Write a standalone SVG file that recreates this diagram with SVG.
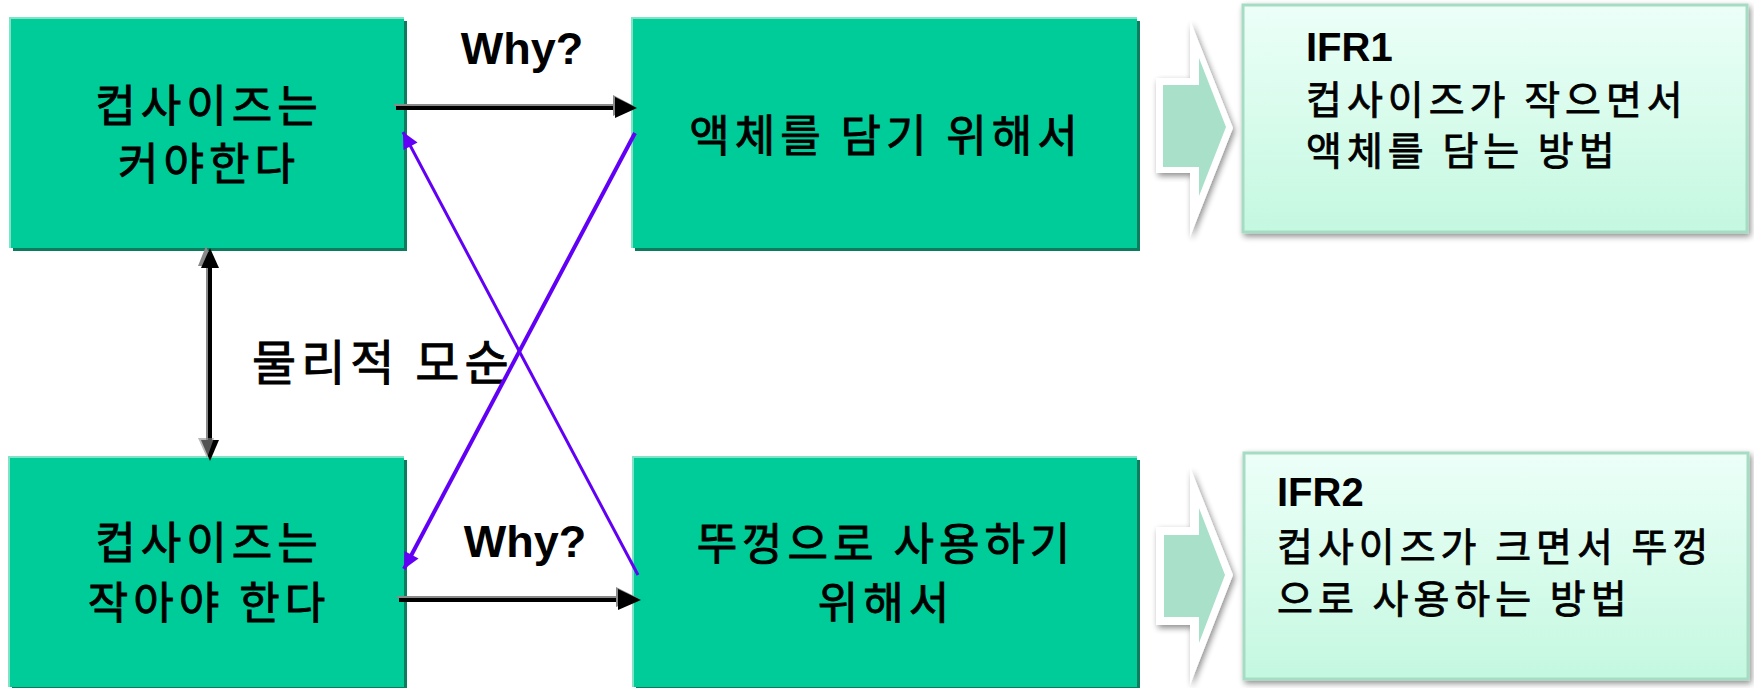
<svg xmlns="http://www.w3.org/2000/svg" width="1754" height="688" viewBox="0 0 1754 688">
<defs>
<style>
.box{fill:#00cc99}
.boxsh{fill:#0b7d5e}
.hl{stroke:#7fe3c6;stroke-width:2;fill:none}
.kt{font-family:"Noto Sans CJK KR","Liberation Sans",sans-serif;font-size:44px;font-weight:400;fill:#000;stroke:#000;stroke-width:0.9px;text-anchor:middle;letter-spacing:5px}
.why{font-family:"Liberation Sans",Arial,sans-serif;font-weight:bold;font-size:45px;fill:#000;text-anchor:middle}
.ifrh{font-family:"Liberation Sans",Arial,sans-serif;font-weight:bold;font-size:40px;fill:#000}
.ifrt{font-family:"Noto Sans CJK KR","Liberation Sans",sans-serif;font-size:39px;font-weight:400;fill:#000;stroke:#000;stroke-width:0.8px;letter-spacing:5px}
.ifr{fill:url(#ifrg);stroke:#a6dcc3;stroke-width:3}
.outer{fill:#fff;filter:url(#sh)}
.inner{fill:#a9e0c9}
.blk{stroke:#000;stroke-width:4;fill:none}
.gry{stroke:#8a8a8a;stroke-width:2;fill:none}
.pur{stroke:#6200f5;fill:none}
</style>
<linearGradient id="ifrg" x1="0" y1="0" x2="0" y2="1">
<stop offset="0" stop-color="#ecfff8"/>
<stop offset="1" stop-color="#c4f8e0"/>
</linearGradient>
<filter id="sh" x="-20%" y="-20%" width="150%" height="150%">
<feGaussianBlur in="SourceAlpha" stdDeviation="3"/>
<feOffset dx="2" dy="3" result="b"/>
<feComponentTransfer><feFuncA type="linear" slope="0.45"/></feComponentTransfer>
<feMerge><feMergeNode/><feMergeNode in="SourceGraphic"/></feMerge>
</filter>
<marker id="pa" viewBox="0 0 10 10" refX="10" refY="5" markerWidth="18" markerHeight="16" markerUnits="userSpaceOnUse" orient="auto">
<path d="M0,0 L10,5 L0,10 z" fill="#6200f5"/>
</marker>
</defs>
<rect width="1754" height="688" fill="#fff"/>

<g id="node-big">
<rect class="boxsh" x="13" y="21" width="394" height="230"/>
<rect class="box" x="10" y="18" width="394" height="230"/>
<path class="hl" d="M10,248 V18 H404"/>
<text class="kt" x="209" y="122">컵사이즈는</text>
<text class="kt" x="209" y="180">커야한다</text>
</g>

<g id="node-liquid">
<rect class="boxsh" x="635" y="21" width="505" height="230"/>
<rect class="box" x="632" y="18" width="505" height="230"/>
<path class="hl" d="M632,248 V18 H1137"/>
<text class="kt" x="886" y="152">액체를 담기 위해서</text>
</g>

<g id="node-small">
<rect class="boxsh" x="12" y="460" width="395" height="230"/>
<rect class="box" x="9" y="457" width="395" height="230"/>
<path class="hl" d="M9,687 V457 H404"/>
<text class="kt" x="209" y="559">컵사이즈는</text>
<text class="kt" x="209" y="619">작아야 한다</text>
</g>

<g id="node-lid">
<rect class="boxsh" x="636" y="460" width="504" height="230"/>
<rect class="box" x="633" y="457" width="504" height="230"/>
<path class="hl" d="M633,687 V457 H1137"/>
<text class="kt" x="886" y="560">뚜껑으로 사용하기</text>
<text class="kt" x="886" y="619">위해서</text>
</g>

<g id="node-ifr1">
<polygon class="outer" points="1156,78 1190,78 1190,20 1233,128 1190,237 1190,173 1156,173"/>
<polygon class="inner" points="1163,85 1199,85 1199,58 1226,127 1199,196 1199,167 1163,167"/>
<rect class="ifr" x="1243" y="5" width="504" height="227" filter="url(#sh)"/>
<text class="ifrh" x="1306" y="61">IFR1</text>
<text class="ifrt" x="1306" y="114">컵사이즈가 작으면서</text>
<text class="ifrt" x="1306" y="165">액체를 담는 방법</text>
</g>

<g id="node-ifr2">
<polygon class="outer" points="1156,527 1190,527 1190,467 1233,575 1190,685 1190,625 1156,625"/>
<polygon class="inner" points="1164,535 1199,535 1199,508 1225,575 1199,643 1199,617 1164,617"/>
<rect class="ifr" x="1244" y="453" width="504" height="226" filter="url(#sh)"/>
<text class="ifrh" x="1277" y="506">IFR2</text>
<text class="ifrt" x="1277" y="561">컵사이즈가 크면서 뚜껑</text>
<text class="ifrt" x="1277" y="613">으로 사용하는 방법</text>
</g>

<g id="labels">
<text class="why" x="522" y="64">Why?</text>
<text class="why" x="525" y="557">Why?</text>
<text class="kt" x="252" y="380" style="text-anchor:start;font-size:48px;letter-spacing:5px">물리적 모순</text>
</g>

<g id="connectors">
<path class="gry" d="M394,105 H618"/>
<path class="blk" d="M396,108 H620"/>
<polygon points="613,95 634,106 613,116" fill="#8a8a8a"/>
<polygon points="615,97 637,108 615,118" fill="#000"/>
<path class="gry" d="M397,597 H620"/>
<path class="blk" d="M399,600 H622"/>
<polygon points="616,587 638,598 616,607" fill="#8a8a8a"/>
<polygon points="618,589 641,600 618,610" fill="#000"/>
<path class="gry" d="M207,262 V446"/>
<path class="blk" d="M210,262 V446"/>
<polygon points="206,246 198,266 214,266" fill="#8a8a8a"/>
<polygon points="210,248 201,268 219,268" fill="#000"/>
<polygon points="210,461 201,440 219,440" fill="#000"/>
<polygon points="207,458 198,438 214,438" fill="#8a8a8a" opacity="0.6"/>
<line class="pur" x1="635" y1="133" x2="404" y2="569" stroke-width="4" marker-end="url(#pa)"/>
<line class="pur" x1="638" y1="575" x2="403" y2="132" stroke-width="3" marker-end="url(#pa)"/>
</g>
</svg>
